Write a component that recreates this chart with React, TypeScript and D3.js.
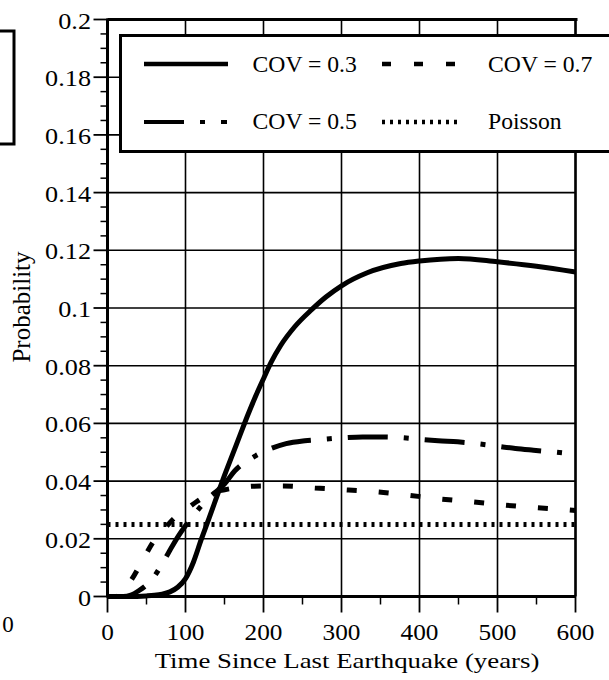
import React from "react";
import * as d3 from "d3";

// ---- data ----
const X_TICKS = [0, 100, 200, 300, 400, 500, 600];
const X_MINOR = [50, 150, 250, 350, 450, 550];
const Y_TICKS = [0, 0.02, 0.04, 0.06, 0.08, 0.1, 0.12, 0.14, 0.16, 0.18, 0.2];
const Y_TICK_LABELS = ["0", "0.02", "0.04", "0.06", "0.08", "0.1", "0.12", "0.14", "0.16", "0.18", "0.2"];

const T_COV03 = [0, 25, 50, 60, 70, 80, 90, 100, 110, 120, 130, 140, 150, 160, 170, 180, 190, 200, 210, 222, 240, 262, 280, 300, 333, 376, 400, 450, 500, 550, 600];
const P_COV03 = [0, 0, 0.0002, 0.0004, 0.0008, 0.0016, 0.0032, 0.0062, 0.0118, 0.0196, 0.027, 0.0345, 0.042, 0.049, 0.056, 0.063, 0.0695, 0.0755, 0.0813, 0.0870, 0.0935, 0.0995, 0.1038, 0.1077, 0.1122, 0.1154, 0.1163, 0.1172, 0.1160, 0.1145, 0.1125];

const T_COV05 = [0, 20, 30, 40, 50, 60, 73, 80, 91, 100, 110, 129, 142, 150, 163, 185, 207, 229, 253, 277, 301, 327, 350, 375, 401, 424, 449, 473, 497, 523, 546, 575, 600];
const P_COV05 = [0, 0, 0.0005, 0.002, 0.004, 0.007, 0.0127, 0.016, 0.021, 0.0245, 0.028, 0.034, 0.037, 0.039, 0.0435, 0.048, 0.051, 0.053, 0.054, 0.0545, 0.055, 0.0553, 0.0553, 0.0551, 0.0545, 0.054, 0.0536, 0.053, 0.0522, 0.0513, 0.0507, 0.050, 0.0493];

const T_COV07 = [0, 10, 20, 30, 45, 60, 70, 85, 100, 115, 130, 150, 175, 200, 226, 266, 309, 348, 386, 427, 468, 508, 549, 591, 600];
const P_COV07 = [0, 0, 0.002, 0.0055, 0.0125, 0.0195, 0.0225, 0.027, 0.030, 0.033, 0.0355, 0.037, 0.038, 0.0383, 0.0383, 0.0376, 0.0369, 0.0362, 0.0351, 0.0338, 0.0328, 0.0317, 0.0308, 0.030, 0.0298];

const T_POISSON = [0, 600];
const P_POISSON = [0.025, 0.025];

const LEGEND_LABELS = ["COV = 0.3", "COV = 0.7", "COV = 0.5", "Poisson"];

const FONT = "'Liberation Serif', 'Times New Roman', Times, serif";

const W = 609;
const H = 680;

export default function App() {
  const x = d3.scaleLinear().domain([0, 600]).range([107.5, 575.5]);
  const y = d3.scaleLinear().domain([0, 0.2]).range([596.5, 19.5]);
  const yMinor = d3.range(0, 0.2001, 0.005).filter((v) => Math.abs(Math.round(v / 0.02) * 0.02 - v) > 1e-6);

  const line = d3
    .line<[number, number]>()
    .x((d) => x(d[0]))
    .y((d) => y(d[1]))
    .curve(d3.curveMonotoneX);

  const zip = (ts: number[], ps: number[]) => ts.map((t, i) => [t, ps[i]] as [number, number]);

  const series = [
    { d: zip(T_COV03, P_COV03), dash: undefined, w: 5 },
    { d: zip(T_COV05, P_COV05), dash: "40,16,5,16", w: 5 },
    { d: zip(T_COV07, P_COV07), dash: "10,22", w: 5 },
    { d: zip(T_POISSON, P_POISSON), dash: "3,5", w: 5 },
  ];

  const x0 = x(0), x1 = x(600), y0 = y(0), y1 = y(0.2);

  return (
    <svg
      width={W}
      height={H}
      viewBox={`0 0 ${W} ${H}`}
      style={{ position: "absolute", left: 0, top: 0, background: "#fff" }}
    >
      <rect x={0} y={0} width={W} height={H} fill="#fff" />
      {/* partial box at far left */}
      <rect x={-30} y={31} width={44} height={113} fill="none" stroke="#000" strokeWidth={3} />

      {/* grid */}
      {Y_TICKS.map((v) => (
        <line key={"gy" + v} x1={x0} x2={x1} y1={y(v)} y2={y(v)} stroke="#000" strokeWidth={1.6} />
      ))}
      {X_TICKS.map((t) => (
        <line key={"gx" + t} x1={x(t)} x2={x(t)} y1={y1} y2={y0} stroke="#000" strokeWidth={1.6} />
      ))}

      {/* curves */}
      {series.map((s, i) => (
        <path
          key={"s" + i}
          d={line(s.d) || ""}
          fill="none"
          stroke="#000"
          strokeWidth={s.w}
          strokeDasharray={s.dash}
          strokeLinecap="butt"
        />
      ))}

      {/* frame */}
      <line x1={x0} x2={x0} y1={y1 - 1} y2={y0 + 1} stroke="#000" strokeWidth={3} />
      <line x1={x0} x2={x1} y1={y0} y2={y0} stroke="#000" strokeWidth={3} />
      <line x1={x0} x2={x1 + 2} y1={y1} y2={y1} stroke="#000" strokeWidth={3} />
      <line x1={x1} x2={x1} y1={y1} y2={y0} stroke="#000" strokeWidth={2.5} />

      {/* y ticks */}
      {Y_TICKS.map((v) => (
        <line key={"yt" + v} x1={x0 - 14} x2={x0} y1={y(v)} y2={y(v)} stroke="#000" strokeWidth={1.8} />
      ))}
      {yMinor.map((v) => (
        <line key={"ym" + v} x1={x0 - 7} x2={x0} y1={y(v)} y2={y(v)} stroke="#000" strokeWidth={1.5} />
      ))}
      {Y_TICKS.map((v, i) => (
        <text
          key={"yl" + v}
          transform={`translate(91, ${y(v) + 9}) scale(1.14,1)`}
          textAnchor="end"
          fontFamily={FONT}
          fontSize={23}
          fill="#000"
        >
          {Y_TICK_LABELS[i]}
        </text>
      ))}

      {/* x ticks */}
      {X_TICKS.map((t) => (
        <line key={"xt" + t} x1={x(t)} x2={x(t)} y1={y0} y2={y0 + 16} stroke="#000" strokeWidth={1.8} />
      ))}
      {X_MINOR.map((t) => (
        <line key={"xm" + t} x1={x(t)} x2={x(t)} y1={y0} y2={y0 + 8} stroke="#000" strokeWidth={1.5} />
      ))}
      {X_TICKS.map((t) => (
        <text
          key={"xl" + t}
          transform={`translate(${x(t)}, 640) scale(1.1,1)`}
          textAnchor="middle"
          fontFamily={FONT}
          fontSize={23}
          fill="#000"
        >
          {String(t)}
        </text>
      ))}
      <text x={8} y={632} textAnchor="middle" fontFamily={FONT} fontSize={23} fill="#000">
        0
      </text>

      {/* axis titles */}
      <text
        transform="translate(347, 668) scale(1.22,1)"
        textAnchor="middle"
        fontFamily={FONT}
        fontSize={22}
        fill="#000"
      >
        Time Since Last Earthquake (years)
      </text>
      <text
        transform="translate(30, 307) rotate(-90)"
        textAnchor="middle"
        fontFamily={FONT}
        fontSize={25}
        fill="#000"
      >
        Probability
      </text>

      {/* legend */}
      <rect x={120.5} y={35.5} width={600} height={116} fill="#fff" stroke="#000" strokeWidth={3} />
      <line x1={144} x2={228} y1={64} y2={64} stroke="#000" strokeWidth={4.5} />
      <line x1={382} x2={460} y1={64} y2={64} stroke="#000" strokeWidth={4.5} strokeDasharray="9,23" />
      <line x1={144} x2={227} y1={122} y2={122} stroke="#000" strokeWidth={4} strokeDasharray="40,16,5,16" />
      <line x1={382} x2={462} y1={122} y2={122} stroke="#000" strokeWidth={4.5} strokeDasharray="3,5" />
      {[
        [252.5, 71.5],
        [488, 71.5],
        [252.5, 129],
        [488, 129],
      ].map((p, i) => (
        <text
          key={"lg" + i}
          transform={`translate(${p[0]}, ${p[1]}) scale(1.03,1)`}
          fontFamily={FONT}
          fontSize={23}
          fill="#000"
        >
          {LEGEND_LABELS[i]}
        </text>
      ))}
    </svg>
  );
}
